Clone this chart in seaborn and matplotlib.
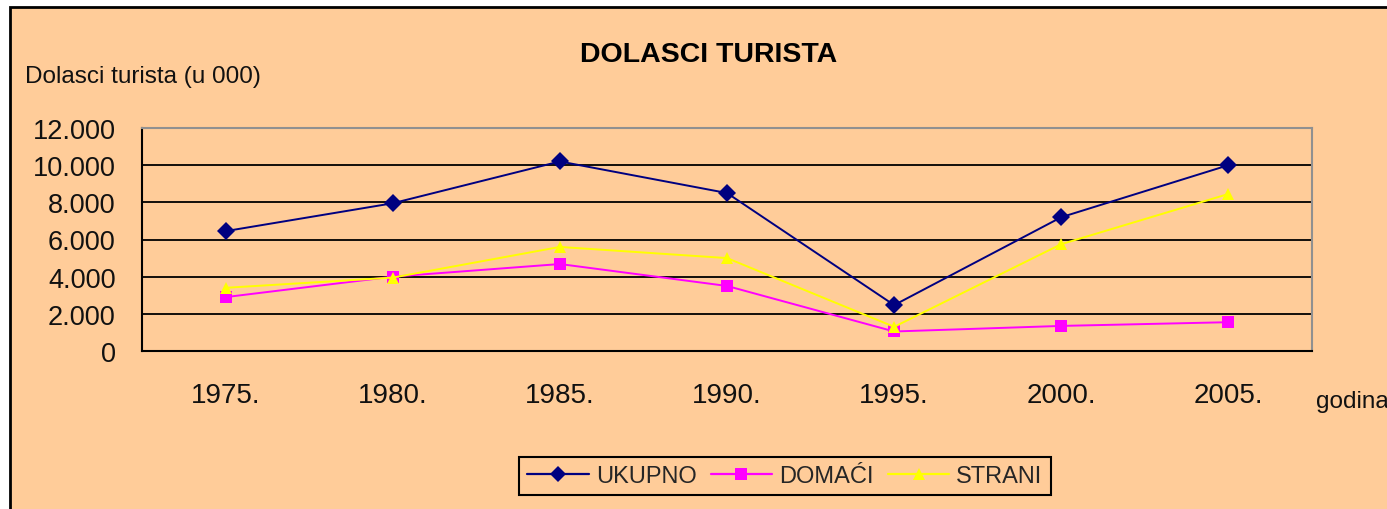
import pandas as pd
import numpy as np
import matplotlib.pyplot as plt
import matplotlib.ticker as mticker
from matplotlib.patches import Rectangle
import seaborn as sns

# Dolasci turista (u 000), po godinama
godine = ["1975.", "1980.", "1985.", "1990.", "1995.", "2000.", "2005."]
ukupno = [6450, 7950, 10200, 8500, 2470, 7200, 10000]
domaci = [2900, 4000, 4680, 3500, 1050, 1350, 1550]
strani = [3400, 3950, 5600, 5000, 1300, 5750, 8450]

serije = ["UKUPNO", "DOMAĆI", "STRANI"]
boje = {"UKUPNO": "#000080", "DOMAĆI": "#FF00FF", "STRANI": "#FFFF00"}
markeri = {"UKUPNO": "D", "DOMAĆI": "s", "STRANI": "^"}

df = pd.DataFrame({
    "godina": godine * 3,
    "dolasci": ukupno + domaci + strani,
    "serija": np.repeat(serije, len(godine)),
})

sns.set_style("white")
plt.rcParams["font.family"] = ["Liberation Sans", "DejaVu Sans"]

peach = "#FFCC99"
fig = plt.figure(figsize=(13.87, 5.10), dpi=100)
fig.patch.set_facecolor("white")
# chart area with black frame at left/top
fig.patches.append(Rectangle((10 / 1387, -0.1), 1.2, 1 - 8 / 510 + 0.1,
                             transform=fig.transFigure, facecolor=peach,
                             edgecolor="black", linewidth=2, zorder=-10))

ax = fig.add_axes([142 / 1387, 1 - 352 / 510, (1312 - 142) / 1387, (352 - 129) / 510])
ax.set_facecolor(peach)

sns.lineplot(data=df, x="godina", y="dolasci", hue="serija", style="serija",
             palette=boje, markers=markeri, dashes=False, sort=False,
             linewidth=1.4, markersize=9, markeredgewidth=0, ax=ax, legend=False)

ax.set_xlim(-0.5, len(godine) - 0.5)
ax.set_ylim(0, 12000)
ax.yaxis.set_major_locator(mticker.MultipleLocator(2000))
ax.yaxis.set_major_formatter(mticker.FuncFormatter(lambda v, p: f"{int(v):,}".replace(",", ".")))
ax.grid(axis="y", color="black", linewidth=1.3)
ax.set_axisbelow(True)

# category ticks between categories, labels centred
ax.set_xticks(np.arange(len(godine) + 1) - 0.5)
ax.set_xticklabels([])
ax.set_xticks(np.arange(len(godine)), minor=True)
ax.set_xticklabels(godine, minor=True)
ax.tick_params(axis="x", which="major", length=6, width=1.3, color="black", direction="out")
ax.tick_params(axis="x", which="minor", length=0, pad=22, labelsize=20, labelcolor="#111111")
ax.tick_params(axis="y", length=8, width=1.3, color="black", direction="out", pad=11,
               labelsize=19.5, labelcolor="#111111")

for s in ["left", "bottom"]:
    ax.spines[s].set_color("black")
    ax.spines[s].set_linewidth(1.5)
for s in ["top", "right"]:
    ax.spines[s].set_color("#909090")
    ax.spines[s].set_linewidth(1.5)
ax.set_xlabel("")
ax.set_ylabel("")

fig.text(709 / 1387, 1 - 55 / 510, "DOLASCI TURISTA", ha="center", va="center",
         fontsize=20.5, fontweight="bold", color="black")
fig.text(25 / 1387, 1 - 77 / 510, "Dolasci turista (u 000)", ha="left", va="center",
         fontsize=17.5, color="#111111")
fig.text(1316 / 1387, 1 - 402 / 510, "godina", ha="left", va="center",
         fontsize=17.5, color="#111111")

handles = [plt.Line2D([], [], color=boje[s], marker=markeri[s], markersize=8,
                      markeredgewidth=0, linewidth=1.6) for s in serije]
leg = fig.legend(handles, serije, loc="center", bbox_to_anchor=(785 / 1387, 1 - 477 / 510),
                 ncol=3, fontsize=17, frameon=True, fancybox=False, framealpha=1,
                 facecolor=peach, edgecolor="black", handlelength=2.6,
                 handletextpad=0.3, columnspacing=0.6, borderpad=0.35)
leg.get_frame().set_linewidth(1.5)

fig.savefig("out.png", dpi=100, facecolor=fig.get_facecolor())
